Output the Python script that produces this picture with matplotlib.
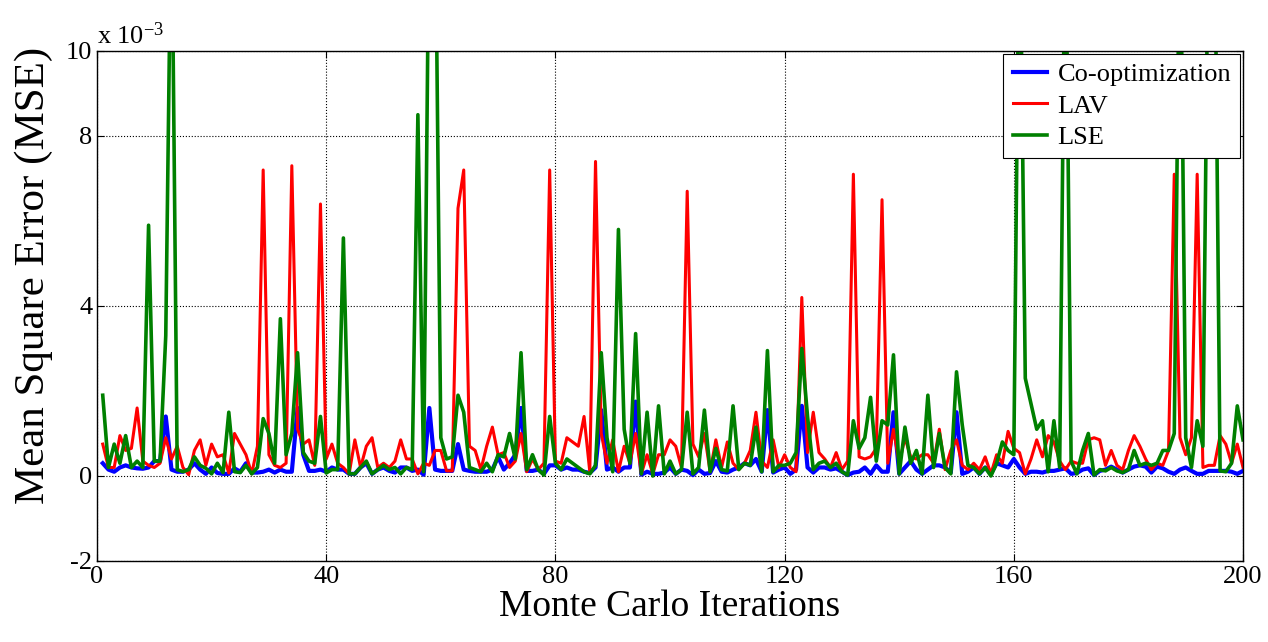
import numpy as np
import matplotlib
matplotlib.use("Agg")
import matplotlib.pyplot as plt

plt.rcParams['font.family'] = ['Liberation Serif', 'DejaVu Serif']
plt.rcParams['mathtext.default'] = 'regular'
plt.rcParams['axes.unicode_minus'] = False

# MSE values in units of 1e-3, Monte Carlo iterations 1..200
co_opt = [
    0.3, 0.15, 0.1, 0.2, 0.25, 0.2, 0.18, 0.17, 0.2, 0.35,
    0.35, 1.4, 0.15, 0.1, 0.1, 0.15, 0.3, 0.15, 0.05, 0.2,
    0.07, 0.05, 0.05, 0.18, 0.1, 0.3, 0.08, 0.08, 0.1, 0.15,
    0.08, 0.15, 0.1, 0.1, 1.6, 0.5, 0.12, 0.12, 0.15, 0.1,
    0.2, 0.15, 0.15, 0.05, 0.05, 0.2, 0.3, 0.05, 0.15, 0.2,
    0.12, 0.08, 0.2, 0.2, 0.12, 0.15, 0.03, 1.6, 0.15, 0.12,
    0.12, 0.12, 0.75, 0.15, 0.12, 0.1, 0.1, 0.1, 0.15, 0.45,
    0.15, 0.3, 0.5, 1.6, 0.12, 0.12, 0.15, 0.05, 0.25, 0.25,
    0.15, 0.2, 0.15, 0.15, 0.1, 0.07, 0.2, 1.55, 0.15, 0.2,
    0.1, 0.2, 0.2, 1.75, 0.03, 0.1, 0.05, 0.05, 0.08, 0.2,
    0.05, 0.15, 0.12, 0.02, 0.15, 0.05, 0.07, 0.35, 0.1, 0.08,
    0.15, 0.2, 0.3, 0.25, 0.4, 0.1, 1.55, 0.08, 0.15, 0.2,
    0.05, 0.15, 1.65, 0.2, 0.08, 0.2, 0.2, 0.15, 0.18, 0.1,
    0.02, 0.08, 0.1, 0.2, 0.05, 0.25, 0.1, 0.1, 1.5, 0.05,
    0.2, 0.35, 0.15, 0.05, 0.15, 0.25, 0.25, 0.2, 0.08, 1.5,
    0.05, 0.1, 0.2, 0.05, 0.2, 0.05, 0.3, 0.25, 0.2, 0.4,
    0.2, 0.05, 0.1, 0.1, 0.08, 0.12, 0.12, 0.15, 0.18, 0.05,
    0.07, 0.15, 0.18, 0.02, 0.12, 0.15, 0.22, 0.15, 0.08, 0.15,
    0.22, 0.25, 0.22, 0.08, 0.22, 0.18, 0.1, 0.05, 0.15, 0.2,
    0.12, 0.05, 0.05, 0.12, 0.12, 0.12, 0.12, 0.1, 0.05, 0.12,
]

lav = [
    0.75, 0.2, 0.2, 0.95, 0.6, 0.65, 1.6, 0.35, 0.25, 0.2,
    0.3, 0.9, 0.4, 0.7, 0.2, 0.03, 0.6, 0.85, 0.25, 0.75,
    0.45, 0.5, 0.07, 1.0, 0.75, 0.5, 0.05, 0.7, 7.2, 0.5,
    0.25, 0.2, 0.3, 7.3, 1.1, 0.75, 0.85, 0.25, 6.4, 0.4,
    0.75, 0.3, 0.2, 0.05, 0.85, 0.2, 0.7, 0.9, 0.2, 0.3,
    0.2, 0.35, 0.85, 0.4, 0.4, 0.05, 0.3, 0.25, 0.6, 0.6,
    0.12, 0.12, 6.3, 7.2, 0.7, 0.6, 0.15, 0.7, 1.15, 0.5,
    0.55, 0.2, 0.35, 1.0, 0.1, 0.4, 0.15, 0.3, 7.2, 0.35,
    0.3, 0.9, 0.8, 0.7, 1.4, 0.1, 7.4, 1.0, 0.3, 0.85,
    0.1, 0.7, 0.3, 1.0, 0.05, 0.5, 0.05, 0.5, 0.5, 0.85,
    0.7, 0.2, 6.7, 0.75, 0.45, 1.0, 0.1, 0.85, 0.2, 0.8,
    0.3, 0.15, 0.3, 0.6, 1.5, 0.35, 0.2, 0.85, 0.2, 0.5,
    0.2, 0.1, 4.2, 0.55, 1.5, 0.55, 0.4, 0.2, 0.55, 0.15,
    0.35, 7.1, 0.45, 0.4, 0.45, 0.65, 6.5, 0.3, 1.1, 0.3,
    0.9, 0.45, 0.4, 0.5, 0.5, 0.3, 1.1, 0.15, 0.6, 0.85,
    0.25, 0.15, 0.3, 0.15, 0.45, 0.05, 0.5, 0.3, 1.05, 0.65,
    0.55, 0.05, 0.4, 0.85, 0.45, 0.95, 0.8, 0.35, 0.15, 0.35,
    0.3, 0.3, 0.85, 0.9, 0.85, 0.25, 0.6, 0.25, 0.15, 0.6,
    0.95, 0.7, 0.4, 0.15, 0.3, 0.25, 0.6, 7.1, 0.9, 0.5,
    0.9, 7.1, 0.2, 0.25, 0.25, 0.95, 0.75, 0.3, 0.75, 0.2,
]

lse = [
    1.9, 0.2, 0.75, 0.3, 0.95, 0.2, 0.35, 0.2, 5.9, 0.35,
    0.35, 3.3, 14.0, 0.15, 0.1, 0.15, 0.45, 0.25, 0.18, 0.05,
    0.3, 0.08, 1.5, 0.1, 0.08, 0.25, 0.05, 0.2, 1.35, 1.0,
    0.3, 3.7, 0.5, 1.0, 2.9, 0.55, 0.35, 0.3, 1.4, 0.07,
    0.15, 0.15, 5.6, 0.05, 0.05, 0.2, 0.35, 0.05, 0.15, 0.25,
    0.15, 0.2, 0.05, 0.2, 0.15, 8.5, 0.1, 14.0, 14.0, 0.9,
    0.4, 0.45, 1.9, 1.5, 0.2, 0.15, 0.1, 0.3, 0.1, 0.5,
    0.45, 1.0, 0.4, 2.9, 0.15, 0.5, 0.15, 0.02, 1.4, 0.3,
    0.15, 0.4, 0.3, 0.2, 0.1, 0.05, 0.25, 2.9, 0.9, 0.1,
    5.8, 1.1, 0.3, 3.35, 0.05, 1.5, 0.0, 1.65, 0.05, 0.35,
    0.05, 0.15, 1.5, 0.05, 0.2, 1.55, 0.1, 0.65, 0.15, 0.12,
    1.65, 0.15, 0.3, 0.25, 1.15, 0.1, 2.95, 0.1, 0.25, 0.25,
    0.3, 0.55, 3.0, 1.4, 0.15, 0.3, 0.35, 0.2, 0.3, 0.1,
    0.02, 1.3, 0.65, 0.9, 1.85, 0.35, 1.3, 1.2, 2.85, 0.05,
    1.15, 0.3, 0.6, 0.05, 1.9, 0.2, 1.0, 0.2, 0.05, 2.45,
    1.2, 0.25, 0.2, 0.05, 0.2, 0.0, 0.3, 0.8, 0.6, 0.5,
    14.0, 2.3, 1.7, 1.1, 1.3, 0.1, 1.3, 0.2, 14.0, 0.35,
    0.05, 0.6, 1.0, 0.02, 0.15, 0.12, 0.2, 0.12, 0.08, 0.15,
    0.6, 0.25, 0.3, 0.25, 0.3, 0.6, 0.6, 1.0, 14.0, 0.9,
    0.2, 1.3, 0.7, 14.0, 14.0, 0.12, 0.1, 0.3, 1.65, 0.85,
]

iters = np.arange(1, len(co_opt) + 1)
x_ticks = [0, 40, 80, 120, 160, 200]
y_ticks = [-2, 0, 4, 8, 10]

fig = plt.figure(figsize=(12.68, 6.42), dpi=100)
ax = fig.add_axes([0.0765, 0.1262, 0.9038, 0.7944])

ax.plot(iters, co_opt, color=(0, 0, 1), lw=3.0, label='Co-optimization')
ax.plot(iters, lav, color=(1, 0, 0), lw=2.2, label='LAV')
ax.plot(iters, lse, color=(0, 0.5, 0), lw=2.6, label='LSE')

ax.set_xlim(0, 200)
ax.set_ylim(-2, 10)
ax.set_xticks(x_ticks)
ax.set_yticks(y_ticks)
ax.tick_params(direction='in', top=True, right=True, labelsize=19, length=5, width=0.8)
ax.grid(True, linestyle=':', color='black', linewidth=0.8)
for s in ax.spines.values():
    s.set_linewidth(1.0)

ax.set_xlabel('Monte Carlo Iterations', fontsize=27, labelpad=1)
ax.set_ylabel('Mean Square Error (MSE)', fontsize=31)
ax.yaxis.set_label_coords(-0.038, 0.56)
ax.text(0.0, 1.005, r'x 10$^{-3}$', transform=ax.transAxes, fontsize=19,
        ha='left', va='bottom')

leg = ax.legend(loc='upper right', fontsize=19, frameon=True, fancybox=False,
                framealpha=1, edgecolor='black', borderaxespad=0.1,
                handlelength=1.3, handletextpad=0.4, labelspacing=0.3,
                borderpad=0.35)
leg.get_frame().set_linewidth(0.8)
leg.set_zorder(5)

fig.savefig('out.png', dpi=100)
